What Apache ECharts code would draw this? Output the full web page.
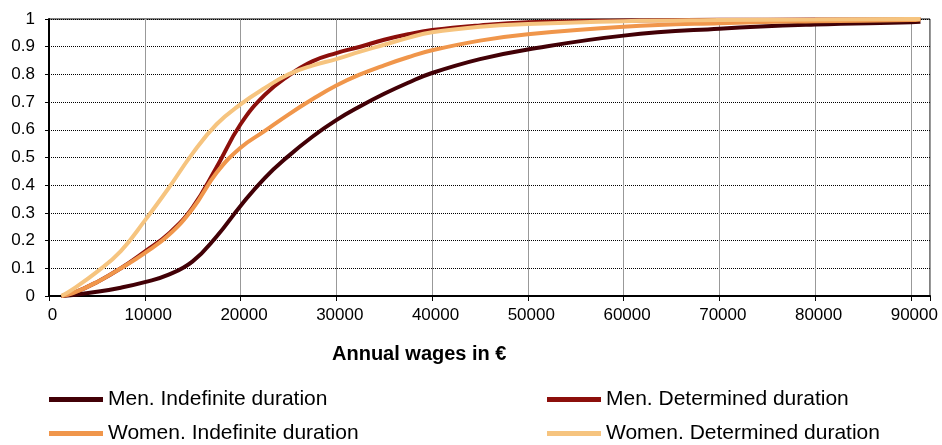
<!DOCTYPE html>
<html>
<head>
    <meta charset="utf-8">
    <title>Annual wages</title>
    <script src="https://cdn.jsdelivr.net/npm/echarts@6/dist/echarts.min.js"></script>
    <style>
        html, body { margin: 0; padding: 0; background: #fff; }
        #chart { width: 942px; height: 445px; }
    </style>
</head>
<body>
<div id="chart"></div>
<script>
    // annual wage points (euro) and cumulative shares
    var wages = [1300, 2500, 5000, 7500, 10000, 12500, 15000, 17500, 20000, 22500, 25000, 27500,
        30000, 32500, 35000, 37500, 40000, 45000, 50000, 60000, 70000, 80000, 90000, 91000];
    var menIndefinite = [0, 0.004, 0.015, 0.03, 0.05, 0.077, 0.125, 0.215, 0.325, 0.425, 0.505, 0.575,
        0.635, 0.685, 0.73, 0.77, 0.805, 0.855, 0.89, 0.94, 0.965, 0.98, 0.988, 0.99];
    var menDetermined = [0, 0.01, 0.05, 0.1, 0.16, 0.225, 0.32, 0.465, 0.62, 0.725, 0.795, 0.847,
        0.877, 0.9, 0.925, 0.945, 0.96, 0.977, 0.988, 0.995, 0.997, 0.998, 0.999, 1.0];
    var womenIndefinite = [0, 0.01, 0.05, 0.1, 0.155, 0.22, 0.315, 0.445, 0.535, 0.595, 0.655, 0.71,
        0.76, 0.8, 0.833, 0.862, 0.887, 0.922, 0.945, 0.972, 0.985, 0.992, 0.996, 0.998];
    var womenDetermined = [0, 0.025, 0.087, 0.162, 0.272, 0.39, 0.515, 0.62, 0.692, 0.75, 0.8, 0.832,
        0.855, 0.882, 0.907, 0.932, 0.952, 0.972, 0.982, 0.992, 0.996, 0.998, 1.0, 1.0];

    var seriesNames = ['Men. Indefinite duration', 'Men. Determined duration',
        'Women. Indefinite duration', 'Women. Determined duration'];
    var seriesColors = ['#420006', '#8c0f0b', '#f0964b', '#f6c47f'];

    var pairs = function (ys) {
        var out = [];
        for (var i = 0; i < wages.length; i++) {
            out.push([wages[i], ys[i]]);
        }
        return out;
    };

    var makeLine = function (idx, ys) {
        return {
            name: seriesNames[idx],
            type: 'line',
            data: pairs(ys),
            smooth: 0.45,
            showSymbol: false,
            color: seriesColors[idx],
            lineStyle: { width: 4, color: seriesColors[idx] }
        };
    };

    var font = 'Liberation Sans, Arial, sans-serif';
    var legendBase = {
        orient: 'vertical',
        top: 389,
        itemGap: 13,
        itemWidth: 54,
        itemHeight: 5,
        icon: 'rect',
        padding: 0,
        textStyle: { fontFamily: font, fontSize: 21, color: '#000' }
    };

    var myChart = echarts.init(document.getElementById('chart'));
    var option = {
        animation: false,
        // the axis title sits left of the plot centre in the original
        title: {
            text: 'Annual wages in €',
            left: 332,
            top: 344,
            padding: 0,
            textStyle: { fontFamily: font, fontSize: 20, fontWeight: 'bold', color: '#000' }
        },
        grid: {
            left: 49, right: 12, top: 19, bottom: 149,
            show: true, borderColor: '#000', borderWidth: 1
        },
        legend: [
            Object.assign({ left: 49, data: [seriesNames[0], seriesNames[2]] }, legendBase),
            Object.assign({ left: 547, data: [seriesNames[1], seriesNames[3]] }, legendBase)
        ],
        xAxis: {
            type: 'value',
            min: 0,
            max: 92000,
            interval: 10000,
            axisLine: { lineStyle: { color: '#000', width: 2 } },
            axisTick: { show: true, length: 5, lineStyle: { color: '#000' } },
            axisLabel: {
                fontFamily: font, fontSize: 17, color: '#000', margin: 11,
                padding: [0, 0, 0, 7],
                formatter: function (v) { return v % 10000 === 0 ? String(v) : ''; }
            },
            splitLine: { show: true, lineStyle: { color: '#999', width: 1 } }
        },
        yAxis: {
            type: 'value',
            min: 0,
            max: 1,
            interval: 0.1,
            axisLine: { show: true, lineStyle: { color: '#000', width: 2 } },
            axisTick: { show: true, length: 4, lineStyle: { color: '#000' } },
            axisLabel: {
                fontFamily: font, fontSize: 17, color: '#000', margin: 14,
                formatter: function (v) { return String(Math.round(v * 10) / 10); }
            },
            splitLine: { show: true, lineStyle: { color: '#000', width: 1, type: [1, 1] } }
        },
        series: [
            makeLine(0, menIndefinite),
            makeLine(1, menDetermined),
            makeLine(2, womenIndefinite),
            makeLine(3, womenDetermined)
        ]
    };
    myChart.setOption(option);
</script>
</body>
</html>
